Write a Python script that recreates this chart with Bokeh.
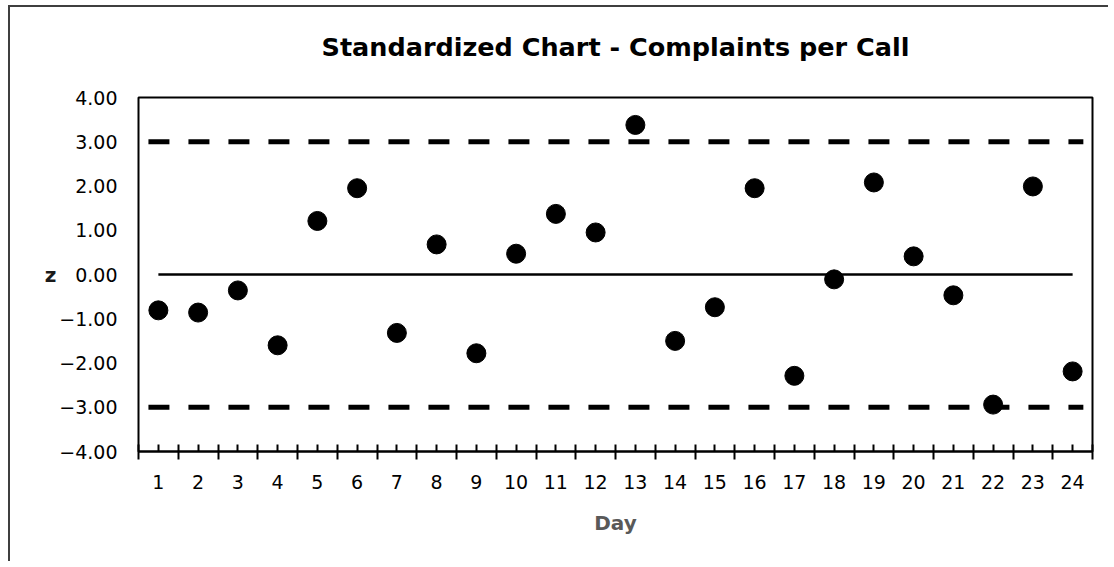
from bokeh.plotting import figure
from bokeh.models import Range1d, FixedTicker, Title
from bokeh.embed import file_html
from bokeh.resources import INLINE

# ---- data ----
days = list(range(1, 25))
z_values = [-0.81, -0.86, -0.36, -1.60, 1.21, 1.95, -1.32, 0.68, -1.78, 0.47,
            1.37, 0.95, 3.38, -1.50, -0.74, 1.95, -2.29, -0.11, 2.08, 0.41,
            -0.47, -2.94, 1.99, -2.19]
center_line = 0.0
upper_limit = 3.0
lower_limit = -3.0
y_ticks = [-4, -3, -2, -1, 0, 1, 2, 3, 4]
y_tick_labels = ["\u22124.00", "\u22123.00", "\u22122.00", "\u22121.00", "0.00",
                 "1.00", "2.00", "3.00", "4.00"]
title_text = "Standardized Chart - Complaints per Call"
x_title = "Day"
y_title = "z"

FONT = "DejaVu Sans"

p = figure(width=1100, height=556, output_backend="svg", toolbar_location=None,
           x_range=Range1d(days[0] - 0.5, days[-1] + 0.5),
           y_range=Range1d(y_ticks[0], y_ticks[-1]),
           min_border_left=128, min_border_right=18,
           min_border_top=90, min_border_bottom=112,
           background_fill_color="white", border_fill_color="white")
p.styles = {"border-left": "2px solid #3f3f3f", "border-top": "2px solid #3f3f3f",
            "margin-left": "8px", "margin-top": "5px"}
p.title = None

# spacer between frame and title (closest to frame), then the title
spacer = Title(text=" ", text_font_size="1px", standoff=33)
p.add_layout(spacer, "above")
main_title = Title(text=title_text, align="center", text_font=FONT,
                   text_font_size="25.5px", text_font_style="bold",
                   text_color="#000000", standoff=0)
p.add_layout(main_title, "above")

p.grid.visible = False
p.outline_line_color = "#000000"
p.outline_line_width = 2

# x axis
xa = p.xaxis[0]
xa.ticker = FixedTicker(ticks=days, minor_ticks=[d - 0.5 for d in days] + [days[-1] + 0.5])
xa.axis_line_color = "#000000"
xa.axis_line_width = 2
xa.major_tick_in = 7
xa.major_tick_out = 0
xa.major_tick_line_width = 2
xa.major_tick_line_color = "#000000"
xa.minor_tick_in = 7
xa.minor_tick_out = 8
xa.minor_tick_line_width = 2
xa.minor_tick_line_color = "#000000"
xa.major_label_text_font = FONT
xa.major_label_text_font_size = "19px"
xa.major_label_text_color = "#000000"
xa.major_label_standoff = 15
xa.axis_label = x_title
xa.axis_label_text_font = FONT
xa.axis_label_text_font_size = "20px"
xa.axis_label_text_font_style = "bold"
xa.axis_label_text_color = "#595959"
xa.axis_label_standoff = 19

# y axis
ya = p.yaxis[0]
ya.ticker = FixedTicker(ticks=y_ticks)
ya.major_label_overrides = {t: s for t, s in zip(y_ticks, y_tick_labels)}
ya.axis_line_color = None
ya.major_tick_line_color = None
ya.minor_tick_line_color = None
ya.major_tick_in = 0
ya.major_tick_out = 0
ya.major_label_text_font = FONT
ya.major_label_text_font_size = "19px"
ya.major_label_text_color = "#000000"
ya.major_label_standoff = 21
ya.axis_label = y_title
ya.axis_label_orientation = "horizontal"
ya.axis_label_text_font = FONT
ya.axis_label_text_font_size = "20px"
ya.axis_label_text_font_style = "bold"
ya.axis_label_text_color = "#1a1a1a"
ya.axis_label_standoff = 0

# control lines
x_ext = [days[0] - 0.25, days[-1] + 0.27]
p.line(x_ext, [upper_limit, upper_limit], line_color="#000000", line_width=5, line_dash="21 19")
p.line(x_ext, [lower_limit, lower_limit], line_color="#000000", line_width=5, line_dash="21 19")
p.line([days[0], days[-1]], [center_line, center_line], line_color="#000000", line_width=2.5)

# points
p.scatter(days, z_values, size=19, fill_color="#000000", line_color="#000000")

open("out.html", "w").write(file_html(p, INLINE))
